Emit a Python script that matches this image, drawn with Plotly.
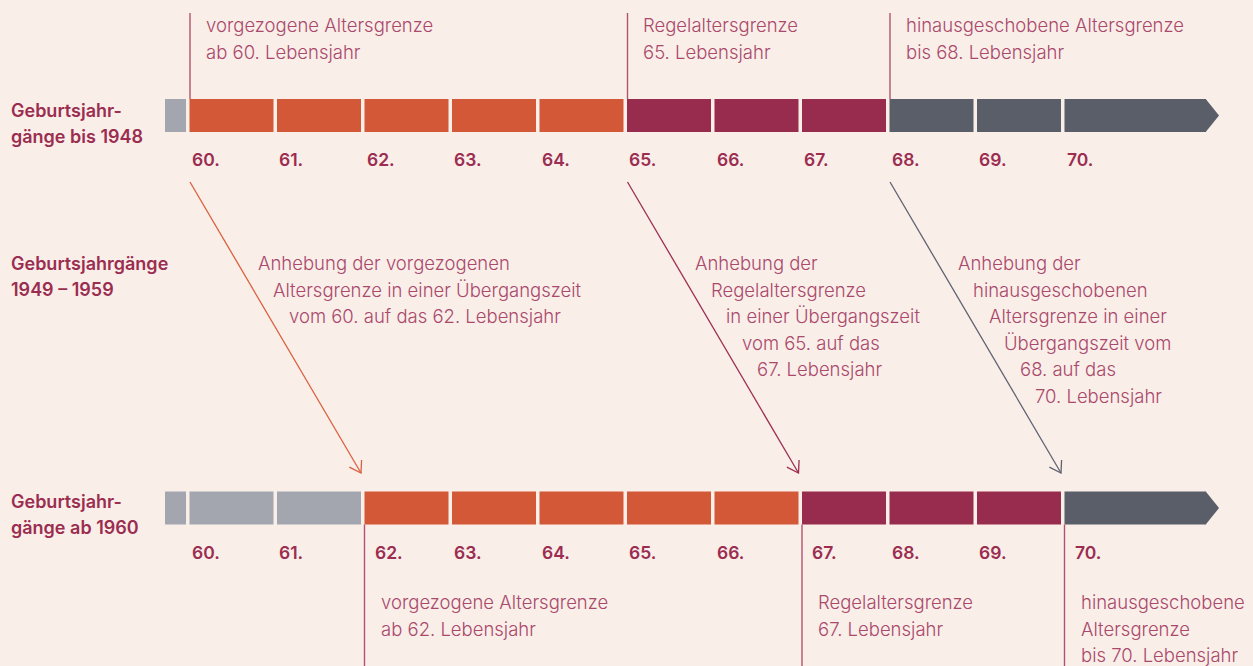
import math
import plotly.graph_objects as go

# ---------------- data ----------------
ages = list(range(60, 71))
age_labels = [f"{a}." for a in ages]
top_groups = ["vorgezogen"] * 5 + ["regel"] * 3 + ["hinaus"] * 3
bottom_groups = ["frueh"] * 2 + ["vorgezogen"] * 5 + ["regel"] * 3 + ["hinaus"]

row_top_label = ["Geburtsjahr-", "gänge bis 1948"]
row_mid_label = ["Geburtsjahrgänge", "1949 – 1959"]
row_bot_label = ["Geburtsjahr-", "gänge ab 1960"]

top_limit_ages = [60, 65, 68]
top_limit_texts = [
    ["vorgezogene Altersgrenze", "ab 60. Lebensjahr"],
    ["Regelaltersgrenze", "65. Lebensjahr"],
    ["hinausgeschobene Altersgrenze", "bis 68. Lebensjahr"],
]
bottom_limit_ages = [62, 67, 70]
bottom_limit_texts = [
    ["vorgezogene Altersgrenze", "ab 62. Lebensjahr"],
    ["Regelaltersgrenze", "67. Lebensjahr"],
    ["hinausgeschobene", "Altersgrenze", "bis 70. Lebensjahr"],
]
transition_from = [60, 65, 68]
transition_to = [62, 67, 70]
transition_groups = ["vorgezogen", "regel", "hinaus"]
transition_texts = [
    ["Anhebung der vorgezogenen", "Altersgrenze in einer Übergangszeit",
     "vom 60. auf das 62. Lebensjahr"],
    ["Anhebung der", "Regelaltersgrenze", "in einer Übergangszeit",
     "vom 65. auf das", "67. Lebensjahr"],
    ["Anhebung der", "hinausgeschobenen", "Altersgrenze in einer",
     "Übergangszeit vom", "68. auf das", "70. Lebensjahr"],
]

# ---------------- style ----------------
BG = "#FAEEE9"
COLORS = {"frueh": "#A3A6AF", "vorgezogen": "#D25837", "regel": "#982C4E", "hinaus": "#5A5E68"}
ARROW_COLORS = {"vorgezogen": "#D9603E", "regel": "#9C2F51", "hinaus": "#5E6270"}
BOLD_COLOR = "#9A2D50"
TEXT_COLOR = "#A9496B"
LINE_COLOR = "#B0536F"
FONT = "Inter"
TEXT_SIZE = 18.5
BOLD_SIZE = 18
AGE_SIZE = 17.5

W, H = 1253, 666
PX_PER_YEAR = 87.5
X60_PX = 189.5


def px(p):  # pixel offset -> years
    return p / PX_PER_YEAR


x_min = 60 - px(X60_PX)
x_max = x_min + px(W)

TOP_BAR_Y, BOT_BAR_Y, BAR_H = 115.5, 508.0, 33.0
SEG_W = 0.96
STUB = (59.72, 59.96)
LAST_END, TIP_END = 71.617, 71.766

fig = go.Figure()


def add_row(groups, yc):
    widths = [SEG_W] * (len(ages) - 1) + [LAST_END - ages[-1]]
    fig.add_trace(go.Bar(
        orientation="h", y=[yc] * len(ages), x=widths, base=ages, width=BAR_H,
        marker=dict(color=[COLORS[g] for g in groups], line=dict(width=0)),
        hoverinfo="skip"))
    fig.add_trace(go.Bar(
        orientation="h", y=[yc], x=[STUB[1] - STUB[0]], base=[STUB[0]], width=BAR_H,
        marker=dict(color=COLORS["frueh"], line=dict(width=0)), hoverinfo="skip"))
    fig.add_trace(go.Scatter(
        x=[LAST_END - 0.003, TIP_END, LAST_END - 0.003],
        y=[yc - BAR_H / 2, yc, yc + BAR_H / 2], fill="toself", mode="none",
        fillcolor=COLORS[groups[-1]], hoverinfo="skip"))


add_row(top_groups, TOP_BAR_Y)
add_row(bottom_groups, BOT_BAR_Y)

annos = []


def txt(x, y, s, kind="light"):
    size = {"light": TEXT_SIZE, "bold": BOLD_SIZE, "age": AGE_SIZE}[kind]
    annos.append(dict(
        x=x, y=y, xref="x", yref="y", text=s, showarrow=False,
        xanchor="left", yanchor="middle",
        font=dict(family=FONT, size=size,
                  color=TEXT_COLOR if kind == "light" else BOLD_COLOR,
                  weight=300 if kind == "light" else 600)))


LINE_STEP = 26.5
# row labels
for i, s in enumerate(row_top_label):
    txt(x_min + px(9), 110 + i * LINE_STEP, s, "bold")
for i, s in enumerate(row_mid_label):
    txt(x_min + px(9), 263 + i * LINE_STEP, s, "bold")
for i, s in enumerate(row_bot_label):
    txt(x_min + px(9), 501 + i * LINE_STEP, s, "bold")

# age labels
for a, lab in zip(ages, age_labels):
    txt(a + px(0.0), TOP_BAR_Y + BAR_H / 2 + 27, lab, "age")
    shift = 8.0 if a in bottom_limit_ages else 0.0
    txt(a + px(shift), BOT_BAR_Y + BAR_H / 2 + 28, lab, "age")

# limit lines + texts
for a, lines in zip(top_limit_ages, top_limit_texts):
    fig.add_trace(go.Scatter(x=[a + px(0.5), a + px(0.5)], y=[13, TOP_BAR_Y - BAR_H / 2],
                             mode="lines", line=dict(color=LINE_COLOR, width=1.4),
                             hoverinfo="skip"))
    for i, s in enumerate(lines):
        txt(a + px(14), 25 + i * LINE_STEP, s)
for a, lines in zip(bottom_limit_ages, bottom_limit_texts):
    fig.add_trace(go.Scatter(x=[a, a], y=[BOT_BAR_Y + BAR_H / 2, H],
                             mode="lines", line=dict(color=LINE_COLOR, width=1.4),
                             hoverinfo="skip"))
    for i, s in enumerate(lines):
        txt(a + px(14), 602 + i * LINE_STEP, s)

# transition arrows
ARROW_START_Y, ARROW_END_Y = 182.0, 473.0
for a0, a1, g, lines in zip(transition_from, transition_to, transition_groups, transition_texts):
    x0p = X60_PX + (a0 - 60) * PX_PER_YEAR + 0.5
    x1p = X60_PX + (a1 - 60) * PX_PER_YEAR - 3.5
    dx, dy = x1p - x0p, ARROW_END_Y - ARROW_START_Y
    L = math.hypot(dx, dy)
    ux, uy = -dx / L, -dy / L
    arms = []
    for ang in (33, -33):
        r = math.radians(ang)
        ax = ux * math.cos(r) - uy * math.sin(r)
        ay = ux * math.sin(r) + uy * math.cos(r)
        arms.append((x1p + 13 * ax, ARROW_END_Y + 13 * ay))
    xs_p = [x0p, x1p, None, arms[0][0], x1p, arms[1][0]]
    ys = [ARROW_START_Y, ARROW_END_Y, None, arms[0][1], ARROW_END_Y, arms[1][1]]
    xs = [None if v is None else x_min + px(v) for v in xs_p]
    fig.add_trace(go.Scatter(x=xs, y=ys, mode="lines",
                             line=dict(color=ARROW_COLORS[g], width=1.3),
                             hoverinfo="skip"))
    # slanted text block following arrow direction
    slope = dx / dy
    base_x = x0p + (263 - ARROW_START_Y) * slope + 18
    for i, s in enumerate(lines):
        yline = 263 + i * LINE_STEP
        txt(x_min + px(base_x + i * LINE_STEP * slope), yline, s)

fig.update_layout(
    width=W, height=H, margin=dict(l=0, r=0, t=0, b=0),
    paper_bgcolor=BG, plot_bgcolor=BG, showlegend=False, barmode="overlay",
    hovermode=False, annotations=annos,
    xaxis=dict(range=[x_min, x_max], visible=False, fixedrange=True),
    yaxis=dict(range=[H, 0], visible=False, fixedrange=True),
)
fig.write_html("out.html", config={"displayModeBar": False},
               post_script="document.body.style.margin='0px';"
                           "document.body.style.background='" + BG + "';")
